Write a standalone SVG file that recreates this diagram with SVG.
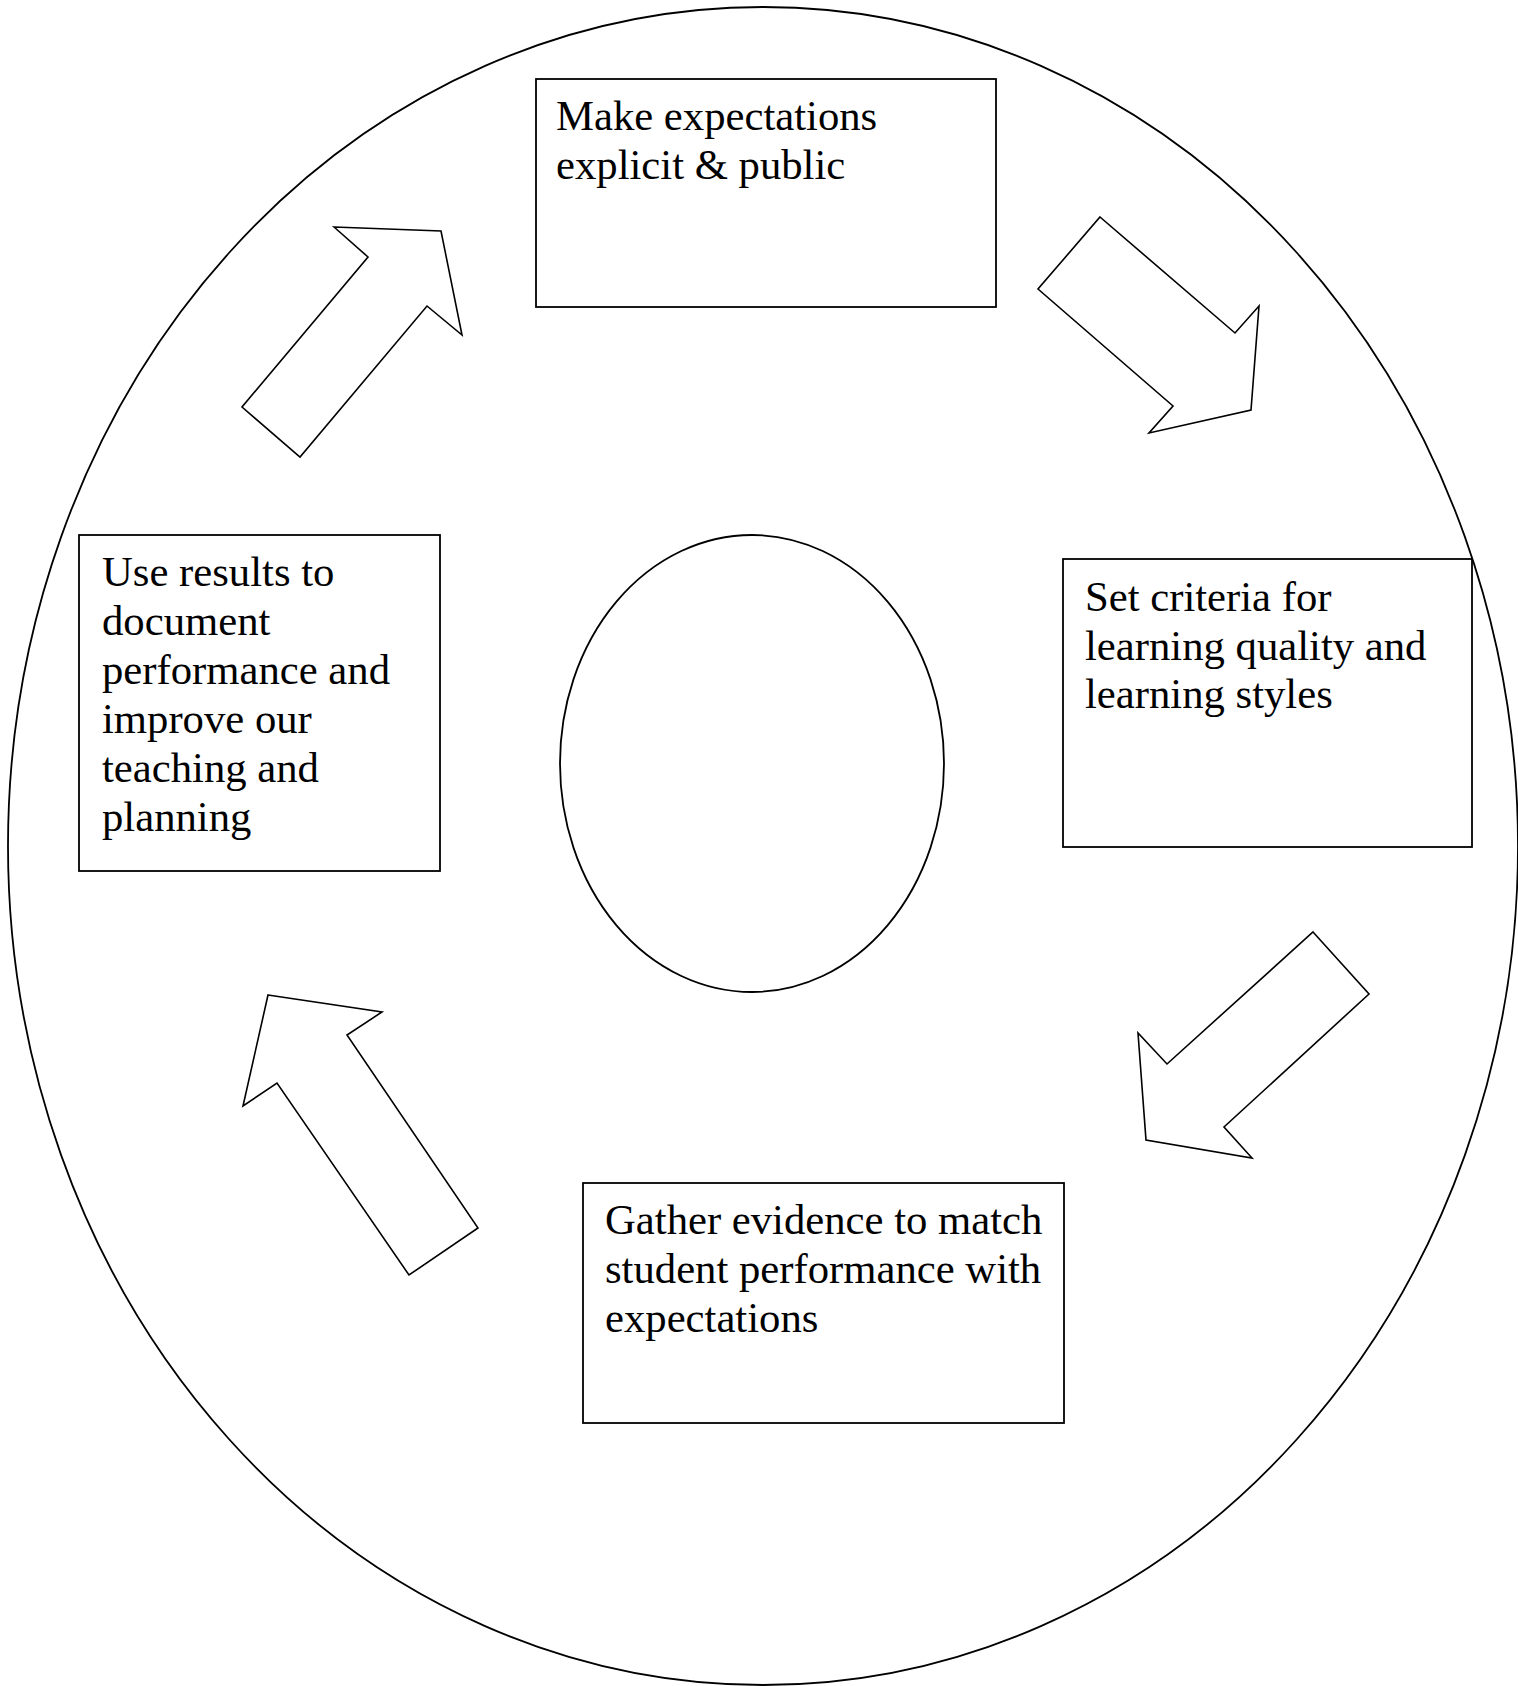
<svg xmlns="http://www.w3.org/2000/svg" width="1518" height="1686" viewBox="0 0 1518 1686">
<style>
.sh{fill:#fff;stroke:#000;stroke-width:1.8}
.ar{fill:#fff;stroke:#000;stroke-width:1.6;stroke-linejoin:miter}
.t{font-family:"Liberation Serif","Times New Roman",serif;font-size:42.7px;fill:#000}
</style>
<rect width="1518" height="1686" fill="#fff"/>
<g id="outer"><ellipse class="sh" cx="763" cy="846" rx="755" ry="839"/></g>
<g id="center"><ellipse class="sh" cx="752" cy="763.5" rx="192" ry="228.5"/></g>
<g id="node1">
<rect class="sh" x="536" y="79" width="460" height="228"/>
<text class="t"><tspan x="556" y="130">Make expectations</tspan><tspan x="556" y="178.5">explicit &amp; public</tspan></text>
</g>
<g id="node2">
<rect class="sh" x="1063" y="559" width="409" height="288"/>
<text class="t"><tspan x="1085" y="611">Set criteria for</tspan><tspan x="1085" y="659.5">learning quality and</tspan><tspan x="1085" y="708">learning styles</tspan></text>
</g>
<g id="node3">
<rect class="sh" x="583" y="1183" width="481" height="240"/>
<text class="t"><tspan x="605" y="1234">Gather evidence to match</tspan><tspan x="605" y="1283">student performance with</tspan><tspan x="605" y="1332">expectations</tspan></text>
</g>
<g id="node4">
<rect class="sh" x="79" y="535" width="361" height="336"/>
<text class="t"><tspan x="102" y="586">Use results to</tspan><tspan x="102" y="635">document</tspan><tspan x="102" y="684">performance and</tspan><tspan x="102" y="733">improve our</tspan><tspan x="102" y="782">teaching and</tspan><tspan x="102" y="831">planning</tspan></text>
</g>
<g id="connectors">
<polygon class="ar" points="334,227 441,231 462,335 427,306 300,457 242,407 368,257"/>
<polygon class="ar" points="1100,217 1235,333 1259,306 1251,410 1149,433 1173,406 1038,289"/>
<polygon class="ar" points="1313,932 1369,994 1224,1127 1252,1158 1146,1140 1138,1033 1167,1064"/>
<polygon class="ar" points="268,995 382,1012 347,1035 478,1228 409,1275 277,1083 243,1106"/>
</g>
</svg>
